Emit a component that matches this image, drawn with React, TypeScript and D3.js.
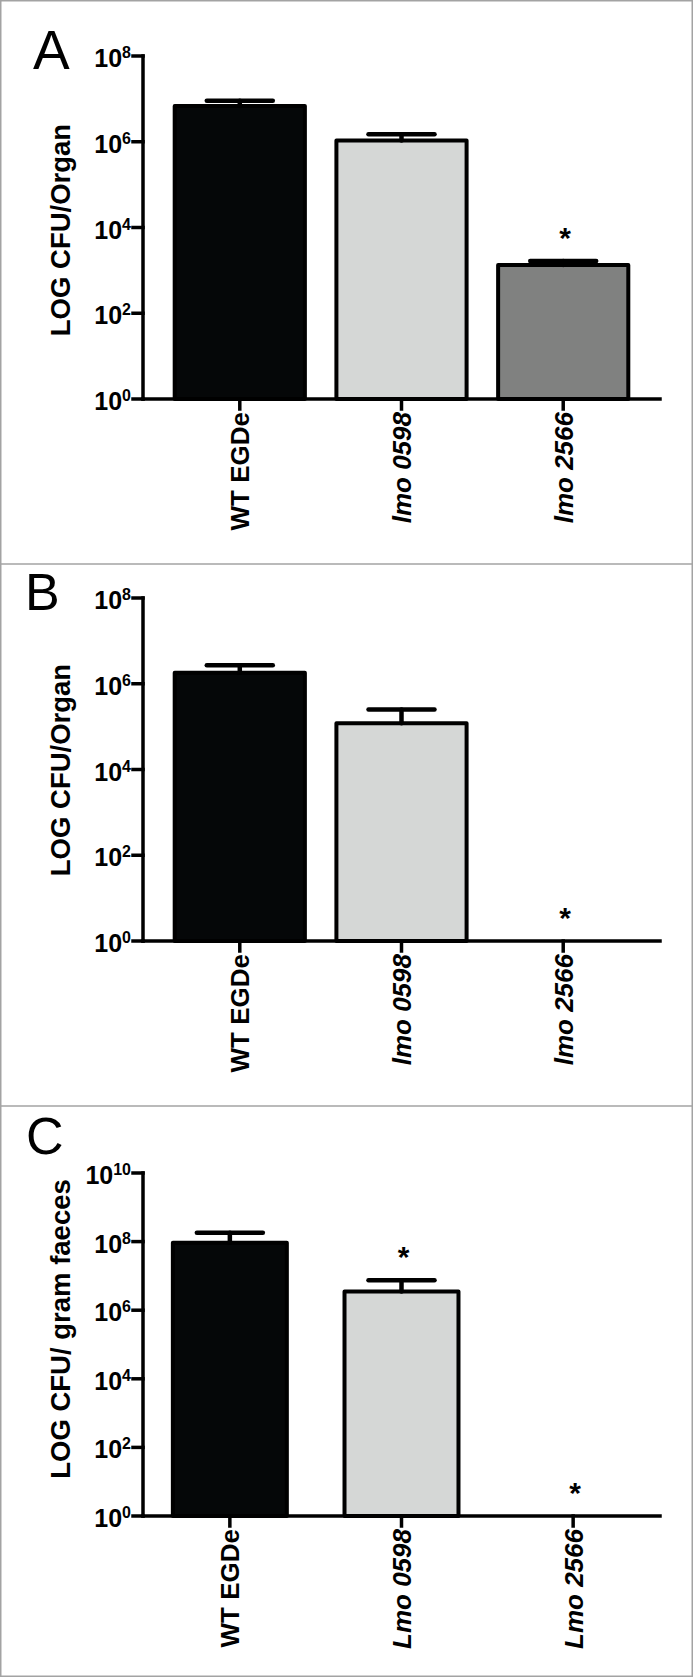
import React from "react";
import * as d3 from "d3";

const categoriesAB = ["WT EGDe", "lmo 0598", "lmo 2566"];
const categoriesC = ["WT EGDe", "Lmo 0598", "Lmo 2566"];
const italicCat = [false, true, true];
const barColors = ["#050708", "#d5d7d6", "#808180"];

// A: CFU per organ
const meanA = [6.8e6, 1.07e6, 1330];
const upperA = [9.0e6, 1.5e6, 1650];
const starA = [false, false, true];
// B: CFU per organ, lmo 2566 not detected
const meanB = [1.8e6, 1.2e5, null];
const upperB = [2.7e6, 2.5e5, null];
const starB = [false, false, true];
// C: CFU per gram faeces
const meanC = [9.3e7, 3.5e6, null];
const upperC = [1.8e8, 7.5e6, null];
const starC = [false, true, true];

const ticksAB = [1, 1e2, 1e4, 1e6, 1e8];
const ticksC = [1, 1e2, 1e4, 1e6, 1e8, 1e10];

const FONT = "'Liberation Sans', Arial, Helvetica, sans-serif";
const AXIS_X = 143;
const AXIS_END = 660;

type PanelProps = {
  letter: string;
  letterX: number;
  letterY: number;
  letterSize: number;
  yTop: number;
  yBottom: number;
  ticks: number[];
  cats: string[];
  mean: (number | null)[];
  upper: (number | null)[];
  star: boolean[];
  yLabel: string;
  yLabelCy: number;
  padInner: number;
  padOuter: number;
};

function Panel(p: PanelProps) {
  const y = d3
    .scaleLog()
    .domain([1, p.ticks[p.ticks.length - 1]])
    .range([p.yBottom, p.yTop]);
  const x = d3
    .scaleBand()
    .domain(p.cats)
    .range([AXIS_X, AXIS_END])
    .paddingInner(p.padInner)
    .paddingOuter(p.padOuter);
  const bw = x.bandwidth();
  const capW = 66;

  return (
    <g>
      <text
        x={p.letterX}
        y={p.letterY}
        fontSize={p.letterSize}
        fontFamily={FONT}
      >
        {p.letter}
      </text>

      {/* bars */}
      {p.cats.map((c, i) => {
        const m = p.mean[i];
        if (m == null) return null;
        const x0 = x(c) as number;
        return (
          <rect
            key={"b" + c}
            x={x0}
            y={y(m)}
            width={bw}
            height={p.yBottom - y(m)}
            fill={barColors[i]}
            stroke="#000"
            strokeWidth={4}
            strokeLinejoin="round"
          />
        );
      })}

      {/* error bars */}
      {p.cats.map((c, i) => {
        const m = p.mean[i];
        const u = p.upper[i];
        if (m == null || u == null) return null;
        const cx = (x(c) as number) + bw / 2;
        return (
          <g key={"e" + c} stroke="#000" strokeWidth={4.5} strokeLinecap="round">
            <line x1={cx} x2={cx} y1={y(m)} y2={y(u)} />
            <line x1={cx - capW / 2} x2={cx + capW / 2} y1={y(u)} y2={y(u)} />
          </g>
        );
      })}

      {/* significance stars */}
      {p.cats.map((c, i) => {
        if (!p.star[i]) return null;
        const u = p.upper[i];
        const cy = (u == null ? p.yBottom : y(u)) - 30;
        const cx = (x(c) as number) + bw / 2 + 2;
        return (
          <text
            key={"s" + c}
            x={cx}
            y={cy + 17}
            textAnchor="middle"
            fontSize={30}
            fontWeight="bold"
            fontFamily={FONT}
          >
            *
          </text>
        );
      })}

      {/* axes */}
      <g stroke="#000" strokeWidth={3.5} strokeLinecap="square">
        <line x1={AXIS_X} x2={AXIS_X} y1={p.yTop} y2={p.yBottom} />
        <line x1={AXIS_X} x2={AXIS_END} y1={p.yBottom} y2={p.yBottom} />
        {p.ticks.map((t) => (
          <line key={"yt" + t} x1={AXIS_X - 10} x2={AXIS_X} y1={y(t)} y2={y(t)} />
        ))}
        {p.cats.map((c) => {
          const cx = (x(c) as number) + bw / 2;
          return (
            <line key={"xt" + c} x1={cx} x2={cx} y1={p.yBottom} y2={p.yBottom + 10} />
          );
        })}
      </g>

      {/* y tick labels */}
      {p.ticks.map((t) => (
        <text
          key={"yl" + t}
          x={AXIS_X - 12}
          y={y(t) + 11}
          textAnchor="end"
          fontSize={25}
          fontWeight="bold"
          fontFamily={FONT}
        >
          <tspan>10</tspan>
          <tspan fontSize={16} dy={-9}>
            {Math.round(Math.log10(t))}
          </tspan>
        </text>
      ))}

      {/* x labels */}
      {p.cats.map((c, i) => {
        const cx = (x(c) as number) + bw / 2;
        return (
          <text
            key={"xl" + c}
            transform={`translate(${cx + 9.5},${p.yBottom + 13}) rotate(-90)`}
            textAnchor="end"
            fontSize={26}
            fontWeight="bold"
            fontStyle={italicCat[i] ? "italic" : "normal"}
            fontFamily={FONT}
          >
            {c}
          </text>
        );
      })}

      <text
        transform={`translate(70,${p.yLabelCy}) rotate(-90)`}
        textAnchor="middle"
        fontSize={27.5}
        fontWeight="bold"
        fontFamily={FONT}
      >
        {p.yLabel}
      </text>
    </g>
  );
}

export default function App() {
  return (
    <div style={{ position: "absolute", left: 0, top: 0 }}>
      <svg width={693} height={1677} style={{ display: "block", background: "#fff" }}>
        <rect x={0.75} y={0.75} width={691.5} height={1675.5} fill="#fff" stroke="#a3a3a3" strokeWidth={1.5} />
        <line x1={0} x2={693} y1={564} y2={564} stroke="#a3a3a3" strokeWidth={1.5} />
        <line x1={0} x2={693} y1={1106} y2={1106} stroke="#a3a3a3" strokeWidth={1.5} />

        <Panel
          letter="A"
          letterX={33}
          letterY={69}
          letterSize={55}
          yTop={56}
          yBottom={399}
          ticks={ticksAB}
          cats={categoriesAB}
          mean={meanA}
          upper={upperA}
          star={starA}
          yLabel="LOG CFU/Organ"
          yLabelCy={230}
          padInner={0.195}
          padOuter={0.196}
        />
        <Panel
          letter="B"
          letterX={25}
          letterY={610}
          letterSize={52}
          yTop={598}
          yBottom={941}
          ticks={ticksAB}
          cats={categoriesAB}
          mean={meanB}
          upper={upperB}
          star={starB}
          yLabel="LOG CFU/Organ"
          yLabelCy={770}
          padInner={0.195}
          padOuter={0.196}
        />
        <Panel
          letter="C"
          letterX={26}
          letterY={1154}
          letterSize={52}
          yTop={1173}
          yBottom={1516}
          ticks={ticksC}
          cats={categoriesC}
          mean={meanC}
          upper={upperC}
          star={starC}
          yLabel="LOG CFU/ gram faeces"
          yLabelCy={1329}
          padInner={0.336}
          padOuter={0.174}
        />
      </svg>
    </div>
  );
}
